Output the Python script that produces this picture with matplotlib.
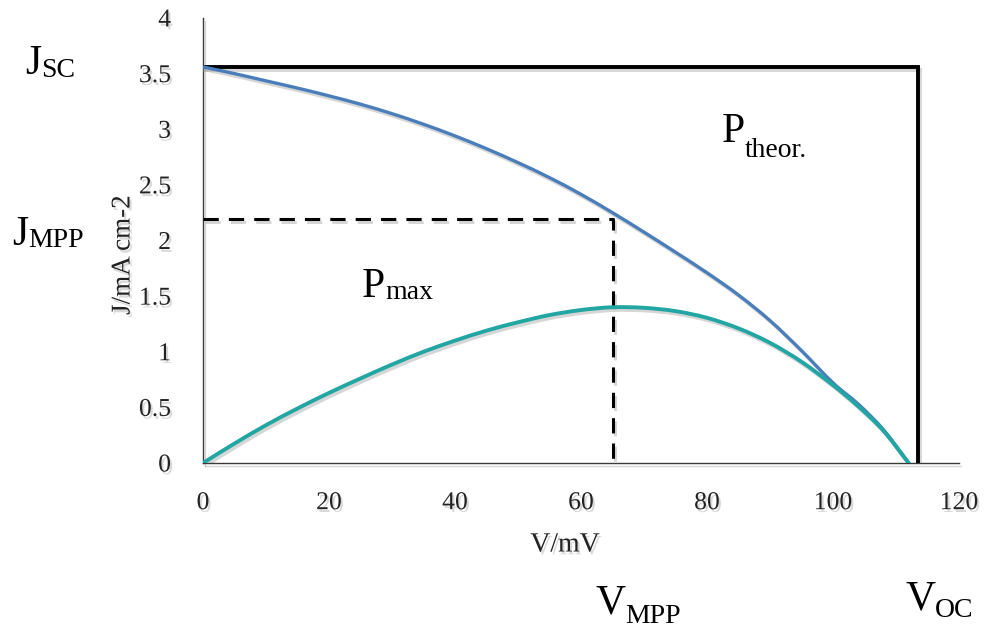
import matplotlib
matplotlib.use("Agg")
import matplotlib.pyplot as plt
import matplotlib.patheffects as pe
from matplotlib.path import Path
from matplotlib.patches import PathPatch

# Photovoltage (mV) sample points
voltage = [0, 5, 10, 15, 20, 25, 30, 35, 40, 45, 50, 55, 60, 65, 70, 75,
           80, 85, 90, 95, 100, 104, 108, 112]
# Current density J (mA cm-2)
current = [3.56, 3.50, 3.435, 3.37, 3.30, 3.225, 3.14, 3.045, 2.94, 2.825,
           2.70, 2.565, 2.415, 2.25, 2.075, 1.895, 1.71, 1.51, 1.28, 1.01,
           0.72, 0.53, 0.30, 0.0]
# Power curve (scaled)
power = [0.0, 0.175, 0.34, 0.49, 0.63, 0.76, 0.885, 1.0, 1.10, 1.19, 1.265,
         1.33, 1.375, 1.40, 1.395, 1.365, 1.305, 1.21, 1.08, 0.91, 0.70,
         0.51, 0.29, 0.0]

# Characteristic points
j_sc = 3.56
v_oc = 113.5
j_mpp = 2.19
v_mpp = 65.0

x_ticks = [0, 20, 40, 60, 80, 100, 120]
x_tick_labels = ["0", "20", "40", "60", "80", "100", "120"]
y_ticks = [0, 0.5, 1, 1.5, 2, 2.5, 3, 3.5, 4]
y_tick_labels = ["0", "0.5", "1", "1.5", "2", "2.5", "3", "3.5", "4"]

SERIF = "Liberation Serif"
W, H = 984, 629

fig = plt.figure(figsize=(W / 100, H / 100), dpi=100)
ax = fig.add_axes([203 / W, 1 - 463 / H, 756 / W, 445 / H])

line_shadow = [pe.SimpleLineShadow(offset=(1.5, -2), shadow_color="0.55", alpha=0.35),
               pe.Normal()]
text_shadow = [pe.withSimplePatchShadow(offset=(1.5, -2), shadow_rgbFace="0.5", alpha=0.3)]


def smooth_path(xs, ys):
    """Catmull-Rom style smoothed path through the points, as cubic Beziers.
    End tangents are extrapolated from the neighbouring segment."""
    n = len(xs)
    verts = [(xs[0], ys[0])]
    codes = [Path.MOVETO]
    for i in range(n - 1):
        x1, y1 = xs[i], ys[i]
        x2, y2 = xs[i + 1], ys[i + 1]
        if i > 0:
            x0, y0 = xs[i - 1], ys[i - 1]
        else:
            x0, y0 = 2 * x1 - x2, 2 * y1 - y2
        if i + 2 < n:
            x3, y3 = xs[i + 2], ys[i + 2]
        else:
            x3, y3 = 2 * x2 - x1, 2 * y2 - y1
        c1 = (x1 + (x2 - x0) / 6, y1 + (y2 - y0) / 6)
        c2 = (x2 - (x3 - x1) / 6, y2 - (y3 - y1) / 6)
        verts += [c1, c2, (x2, y2)]
        codes += [Path.CURVE4] * 3
    return Path(verts, codes)


# Ideal rectangle (Jsc x Voc)
ax.plot([0, v_oc, v_oc], [j_sc, j_sc, 0], color="black", lw=2.8,
        solid_joinstyle="miter", path_effects=line_shadow, zorder=3)
# Maximum power point rectangle
ax.plot([0, v_mpp, v_mpp], [j_mpp, j_mpp, 0], color="black", lw=2.2,
        dashes=(5, 3.3), path_effects=line_shadow, zorder=3)
# J-V curve and power curve
for xs, ys, col, lw, z in ((voltage, current, "#4a7ebb", 2.4, 4),
                           (voltage, power, "#22a6a3", 2.8, 5)):
    ax.add_patch(PathPatch(smooth_path(xs, ys), facecolor="none", edgecolor=col,
                           lw=lw, capstyle="round", joinstyle="round",
                           path_effects=line_shadow, zorder=z))

ax.set_xlim(0, 120)
ax.set_ylim(0, 4)
for s in ("top", "right"):
    ax.spines[s].set_visible(False)
for s in ("left", "bottom"):
    ax.spines[s].set_color("#3a3a3a")
    ax.spines[s].set_linewidth(1.0)
    ax.spines[s].set_path_effects(line_shadow)

ax.set_xticks(x_ticks)
ax.set_xticklabels(x_tick_labels)
ax.set_yticks(y_ticks)
ax.set_yticklabels(y_tick_labels)
ax.tick_params(axis="both", length=0, labelsize=18.5, colors="#222222")
ax.tick_params(axis="x", pad=21)
ax.tick_params(axis="y", pad=23)
for lab in ax.get_xticklabels() + ax.get_yticklabels():
    lab.set_fontfamily(SERIF)
    lab.set_path_effects(text_shadow)

ax.set_xlabel("V/mV", fontsize=20, fontfamily=SERIF, color="#222222",
              path_effects=text_shadow)
ax.xaxis.set_label_coords((565 - 203) / 756, -(545 - 463) / 445)
ax.xaxis.label.set_va("center")
ax.set_ylabel("J/mA cm-2", fontsize=19.5, fontfamily=SERIF, color="#222222",
              path_effects=text_shadow)
ax.yaxis.set_label_coords(-(203 - 123) / 756, (463 - 255) / 445)
ax.yaxis.label.set_va("center")


def symbol(x, y, main, sub, drop, main_size=30, sub_size=20):
    """Draw a quantity symbol with subscript; x, y are pixel coordinates of the
    left edge and baseline measured from the top-left of the figure."""
    t = fig.text(x / W, 1 - y / H, main, fontsize=main_size, fontfamily=SERIF,
                 ha="left", va="baseline")
    fig.canvas.draw()
    bb = t.get_window_extent()
    fig.text(bb.x1 / W, 1 - (y + drop) / H, sub, fontsize=sub_size,
             fontfamily=SERIF, ha="left", va="baseline")


symbol(25, 74, "J", "SC", 3)
symbol(12, 245, "J", "MPP", 2)
symbol(362, 297, "P", "max", 2)
symbol(722, 142, "P", "theor.", 15)
symbol(595, 613, "V", "MPP", 10)
symbol(905, 609, "V", "OC", 8)

fig.savefig("out.png", dpi=100)
